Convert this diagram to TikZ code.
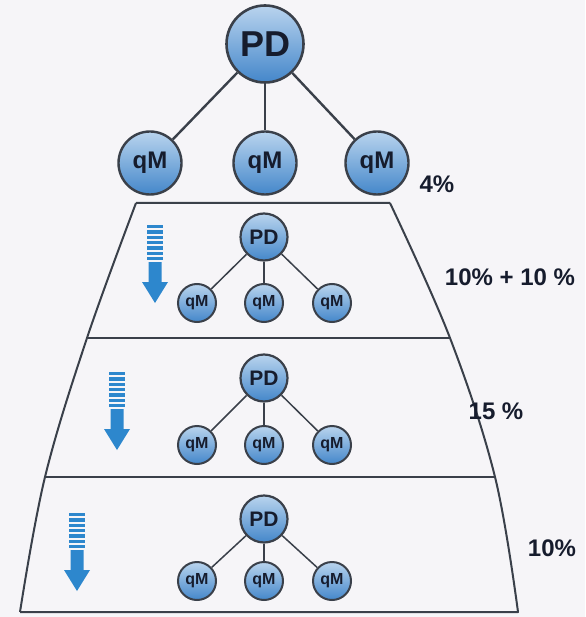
\documentclass[tikz,border=0pt]{standalone}
\usepackage{fontspec}
\setmainfont{Liberation Sans}
\usetikzlibrary{calc}

\definecolor{ballblue}{RGB}{68,135,202}
\definecolor{balltop}{RGB}{185,212,238}
\definecolor{ringgray}{RGB}{58,64,74}
\definecolor{arrowblue}{RGB}{45,135,205}
\definecolor{paper}{RGB}{246,245,248}
\definecolor{inkdark}{RGB}{22,28,45}

\tikzset{
 ball/.style={circle,draw=ringgray,top color=balltop,bottom color=ballblue,inner sep=0pt,text=inkdark},
 bigpd/.style={ball,minimum size=77pt,line width=2.6pt,font=\bfseries\fontsize{36}{36}\selectfont},
 bigqm/.style={ball,minimum size=63pt,line width=2.4pt,font=\bfseries\fontsize{24}{24}\selectfont},
 smallpd/.style={ball,minimum size=47pt,line width=2.2pt,font=\bfseries\fontsize{21}{21}\selectfont},
 smallqm/.style={ball,minimum size=38pt,line width=2pt,font=\bfseries\fontsize{16}{16}\selectfont},
 biglink/.style={draw=ringgray,line width=2.4pt},
 smalllink/.style={draw=ringgray,line width=1.5pt},
 share/.style={font=\bfseries\fontsize{24}{24}\selectfont,text=inkdark},
}

\newcommand{\stripedarrow}[2]{%
 \fill[arrowblue] (#1-6.5,#2+37) -- (#1+6.5,#2+37) -- (#1+6.5,#2+57) -- (#1+13,#2+57)
   -- (#1,#2+78) -- (#1-13,#2+57) -- (#1-6.5,#2+57) -- cycle;
 \foreach \k in {0,...,6}
   \fill[arrowblue] (#1-8,#2+\k*5.3) rectangle (#1+8,#2+\k*5.3+3.3);
}

\begin{document}
\begin{tikzpicture}[x=1pt,y=-1pt]
\fill[paper] (0,0) rectangle (585,617);
\useasboundingbox (0,0) rectangle (585,617);

% outline of the layers
\draw[line width=2pt,ringgray,line join=round]
  (136,203) -- (390,203)
  plot[smooth,tension=0.6] coordinates {(390,203) (450,338) (495,477) (518,612)}
  -- (20,612)
  plot[smooth,tension=0.6] coordinates {(20,612) (45,477) (87,338) (136,203)};
\draw[line width=2pt,ringgray] (87,338) -- (450,338);
\draw[line width=2pt,ringgray] (45,477) -- (495,477);

% top tree
\node[bigpd] (pd0) at (265,44) {PD};
\node[bigqm] (q01) at (150,163) {qM};
\node[bigqm] (q02) at (265,163) {qM};
\node[bigqm] (q03) at (377,163) {qM};
\draw[biglink] (pd0) -- (q01);
\draw[biglink] (pd0) -- (q02);
\draw[biglink] (pd0) -- (q03);
\node[share,anchor=west] (s0) at (416,184) {4\%};

% layer trees
\foreach \s/\yp/\yq/\xa/\ya in {1/237/303/155/225, 2/378/445/117/372, 3/519/581/77/513}{
  \node[smallpd] (pd\s) at (264,\yp) {PD};
  \node[smallqm] (q\s1) at (197,\yq) {qM};
  \node[smallqm] (q\s2) at (264,\yq) {qM};
  \node[smallqm] (q\s3) at (332,\yq) {qM};
  \draw[smalllink] (pd\s) -- (q\s1);
  \draw[smalllink] (pd\s) -- (q\s2);
  \draw[smalllink] (pd\s) -- (q\s3);
  \stripedarrow{\xa}{\ya}
}

\node[share] (s1) at (510,277) {10\% + 10 \%};
\node[share] (s2) at (496,411) {15 \%};
\node[share] (s3) at (552,548) {10\%};

\end{tikzpicture}
\end{document}
